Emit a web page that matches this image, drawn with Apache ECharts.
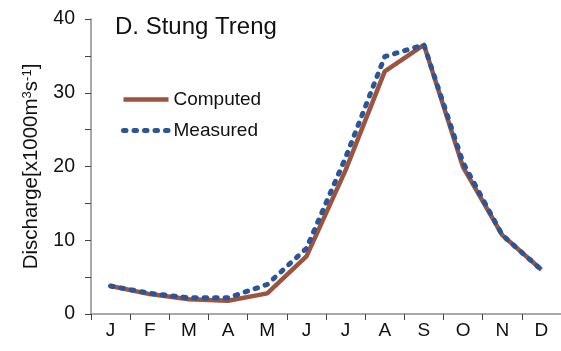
<!DOCTYPE html>
<html>
<head>
<meta charset="utf-8">
<script src="https://cdn.jsdelivr.net/npm/echarts@6/dist/echarts.min.js"></script>
<style>
  html, body { margin: 0; padding: 0; background: #fff; }
  #chart { width: 561px; height: 351px; }
</style>
</head>
<body>
<div id="chart"></div>
<script>
// Monthly mean discharge at Stung Treng (x1000 m3/s)
const months = ['J', 'F', 'M', 'A', 'M', 'J', 'J', 'A', 'S', 'O', 'N', 'D'];
const computed = [3.8, 2.7, 2.0, 1.8, 2.8, 7.8, 19.5, 32.9, 36.5, 19.9, 10.7, 6.0];
const measured = [3.8, 2.8, 2.2, 2.2, 4.0, 8.9, 21.2, 34.9, 36.5, 20.5, 10.7, 6.0];
const yTicks = { min: 0, max: 40, step: 10 };

const FONT = 'Liberation Sans, Arial, sans-serif';
const AXIS_GRAY = '#8c8c8c';
const BROWN = '#9b5440';
const BLUE = '#2a5699';
const DOTS = [2.5, 8];

const chart = echarts.init(document.getElementById('chart'), null, { renderer: 'canvas' });

chart.setOption({
  animation: false,
  backgroundColor: '#ffffff',
  title: {
    text: 'D. Stung Treng',
    left: 110,
    top: 10,
    textStyle: { fontFamily: FONT, fontSize: 24, fontWeight: 'normal', color: '#111' }
  },
  legend: {
    orient: 'vertical',
    left: 116,
    top: 85,
    itemWidth: 45,
    itemHeight: 14,
    itemGap: 12,
    itemStyle: { opacity: 0 },
    textStyle: { fontFamily: FONT, fontSize: 19, color: '#111' },
    data: [
      { name: 'Computed', lineStyle: { width: 4.5, color: BROWN } },
      { name: 'Measured', lineStyle: { width: 5, color: BLUE, type: DOTS, cap: 'round' } }
    ]
  },
  grid: { left: 91, right: 0, top: 19, bottom: 37, containLabel: false },
  xAxis: {
    type: 'category',
    data: months,
    boundaryGap: true,
    axisLine: { lineStyle: { color: AXIS_GRAY, width: 1.5 } },
    axisTick: { show: true, length: 6, inside: false, lineStyle: { color: '#444' } },
    axisLabel: { fontFamily: FONT, fontSize: 19, color: '#111', margin: 7 }
  },
  yAxis: {
    type: 'value',
    min: yTicks.min,
    max: yTicks.max,
    interval: yTicks.step,
    name: 'Discharge[x1000m{sup|3}s{sup|-1}]',
    nameLocation: 'middle',
    nameGap: 49,
    nameRotate: 90,
    nameTextStyle: {
      fontFamily: FONT, fontSize: 20.5, color: '#111',
      rich: {
        sup: { fontFamily: FONT, fontSize: 13, color: '#111', verticalAlign: 'top', lineHeight: 20 }
      }
    },
    splitLine: { show: false },
    axisLine: { show: true, lineStyle: { color: AXIS_GRAY, width: 1.5 } },
    axisTick: { show: true, length: 6, lineStyle: { color: '#444' } },
    minorTick: { show: true, splitNumber: 2, length: 6, lineStyle: { color: '#444' } },
    axisLabel: { fontFamily: FONT, fontSize: 19.5, color: '#111', margin: 16 }
  },
  series: [
    {
      name: 'Computed',
      type: 'line',
      data: computed,
      symbol: 'none',
      color: BROWN,
      lineStyle: { color: BROWN, width: 4.5, join: 'round' },
      z: 2
    },
    {
      name: 'Measured',
      type: 'line',
      data: measured,
      symbol: 'none',
      color: BLUE,
      lineStyle: { color: BLUE, width: 5, type: DOTS, cap: 'round', join: 'round' },
      z: 3
    }
  ]
});
</script>
</body>
</html>
